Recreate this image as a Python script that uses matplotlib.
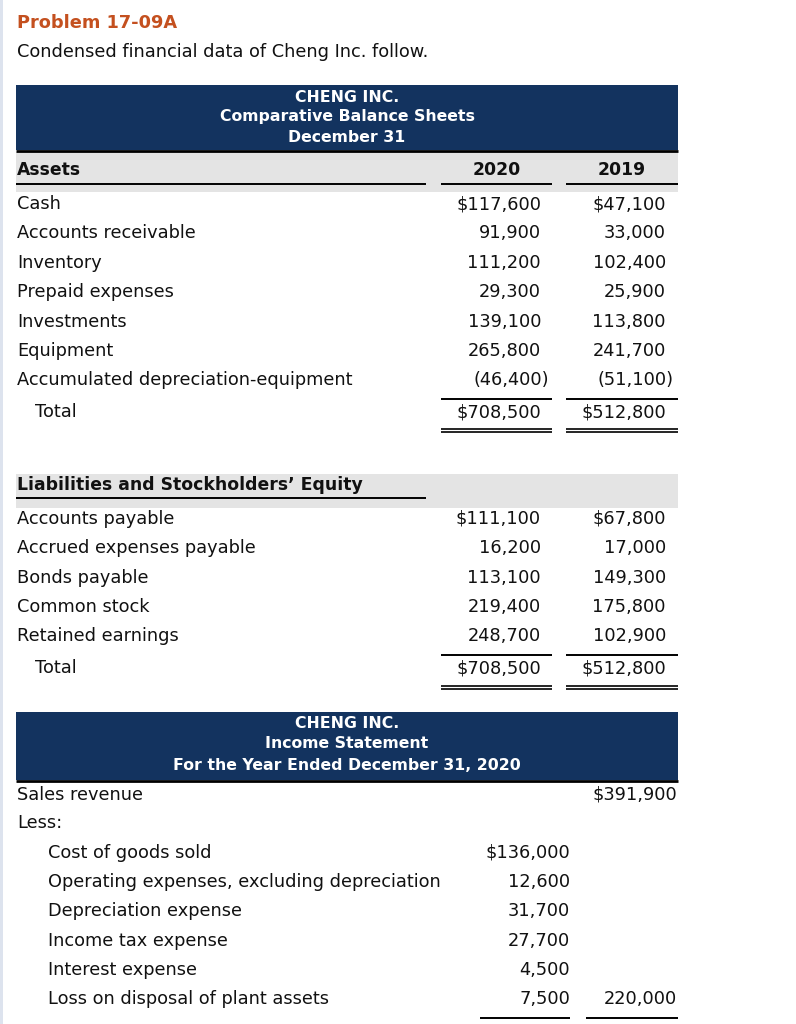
import matplotlib.pyplot as plt
from matplotlib.patches import Rectangle

# ---- data ----
title = "Problem 17-09A"
intro = "Condensed financial data of Cheng Inc. follow."

bs_header = ["CHENG INC.", "Comparative Balance Sheets", "December 31"]
years = ["2020", "2019"]

asset_items = ["Cash", "Accounts receivable", "Inventory", "Prepaid expenses",
               "Investments", "Equipment", "Accumulated depreciation-equipment"]
assets_2020 = ["$117,600", "91,900", "111,200", "29,300", "139,100", "265,800", "(46,400)"]
assets_2019 = ["$47,100", "33,000", "102,400", "25,900", "113,800", "241,700", "(51,100)"]
assets_total = ["$708,500", "$512,800"]

liab_items = ["Accounts payable", "Accrued expenses payable", "Bonds payable",
              "Common stock", "Retained earnings"]
liab_2020 = ["$111,100", "16,200", "113,100", "219,400", "248,700"]
liab_2019 = ["$67,800", "17,000", "149,300", "175,800", "102,900"]
liab_total = ["$708,500", "$512,800"]

is_header = ["CHENG INC.", "Income Statement", "For the Year Ended December 31, 2020"]
sales_label = "Sales revenue"
sales_value = "$391,900"
expense_items = ["Cost of goods sold", "Operating expenses, excluding depreciation",
                 "Depreciation expense", "Income tax expense", "Interest expense",
                 "Loss on disposal of plant assets"]
expense_values = ["$136,000", "12,600", "31,700", "27,700", "4,500", "7,500"]
expense_total = "220,000"

# ---- style ----
NAVY = "#13335f"
GRAY = "#e4e4e4"
ORANGE = "#c4501f"
BODY = 12.75
BOLD = 12.4
HEAD = 11.3

fig = plt.figure(figsize=(7.96, 10.24), dpi=100)
ax = fig.add_axes([0, 0, 1, 1])
ax.set_xlim(0, 796)
ax.set_ylim(1024, 0)
ax.axis("off")

ax.add_patch(Rectangle((0, 0), 3, 1024, color="#dde3ee", lw=0))


def txt(x, y, s, ha="left", weight="normal", size=BODY, color="#111111"):
    ax.text(x, y, s, ha=ha, va="center", fontsize=size, fontweight=weight,
            color=color, family="DejaVu Sans")


def num(xr, y, s):
    # closing parenthesis hangs past the column edge
    if s.endswith(")"):
        txt(xr + 8, y, s, ha="right")
    else:
        txt(xr, y, s, ha="right")


def hline(y, x0, x1, lw=1.4):
    ax.plot([x0, x1], [y, y], color="black", lw=lw, solid_capstyle="butt")


def double(y, x0, x1):
    hline(y, x0, x1, lw=1.2)
    hline(y + 3, x0, x1, lw=1.2)


col1 = (441, 552)
col2 = (566, 678)
r1, r2 = 541, 666

txt(17, 23, title, weight="bold", color=ORANGE)
txt(17, 52, intro)

# balance sheet header
ax.add_patch(Rectangle((16, 85), 662, 65, color=NAVY, lw=0))
hline(151, 16, 678, lw=2)
for i, s in enumerate(bs_header):
    txt(347, 97 + 20 * i, s, ha="center", weight="bold", size=HEAD, color="white")

ax.add_patch(Rectangle((16, 152), 662, 40, color=GRAY, lw=0))
txt(17, 170, "Assets", weight="bold", size=BOLD)
txt(497, 170, years[0], ha="center", weight="bold", size=BOLD)
txt(622, 170, years[1], ha="center", weight="bold", size=BOLD)
hline(184, 16, 426)
hline(184, *col1)
hline(184, *col2)

ys = [204, 233, 263, 292, 322, 351, 380]
for y, lab, a, b in zip(ys, asset_items, assets_2020, assets_2019):
    txt(17, y, lab)
    num(r1, y, a)
    num(r2, y, b)
hline(399, *col1)
hline(399, *col2)
txt(35, 412, "Total")
num(r1, 412, assets_total[0])
num(r2, 412, assets_total[1])
double(429, *col1)
double(429, *col2)

# liabilities
ax.add_patch(Rectangle((16, 474), 662, 34, color=GRAY, lw=0))
txt(17, 485, "Liabilities and Stockholders\u2019 Equity", weight="bold", size=BOLD)
hline(498, 16, 426)
ys = [519, 548, 578, 607, 636]
for y, lab, a, b in zip(ys, liab_items, liab_2020, liab_2019):
    txt(17, y, lab)
    num(r1, y, a)
    num(r2, y, b)
hline(655, *col1)
hline(655, *col2)
txt(35, 668, "Total")
num(r1, 668, liab_total[0])
num(r2, 668, liab_total[1])
double(686, *col1)
double(686, *col2)

# income statement
ax.add_patch(Rectangle((16, 712), 662, 68, color=NAVY, lw=0))
hline(781, 16, 678, lw=2)
for i, s in enumerate(is_header):
    txt(347, 723 + 21 * i, s, ha="center", weight="bold", size=HEAD, color="white")

txt(17, 795, sales_label)
num(677, 795, sales_value)
txt(17, 823, "Less:")
ys = [853, 882, 911, 941, 970, 999]
for y, lab, v in zip(ys, expense_items, expense_values):
    txt(48, y, lab)
    num(570, y, v)
num(677, 999, expense_total)
hline(1018, 480, 570)
hline(1018, 586, 678)

fig.savefig("out.png", dpi=100, facecolor="white")
